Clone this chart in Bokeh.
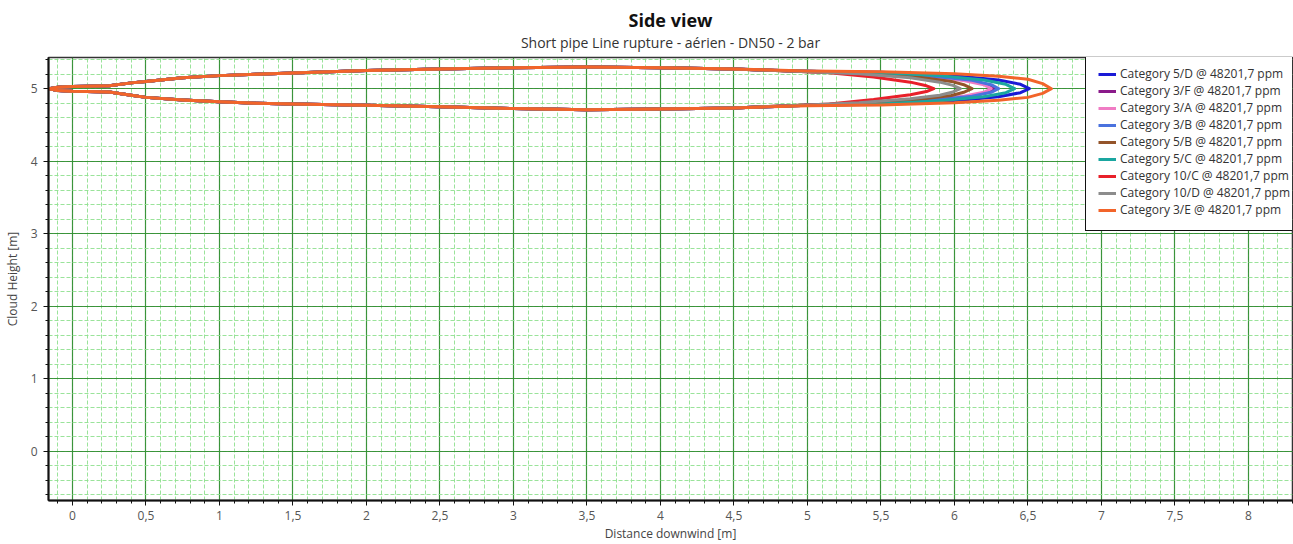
from bokeh.plotting import figure
from bokeh.models import (Title, SingleIntervalTicker, CustomJSTickFormatter, Range1d,
                          Legend, LegendItem)
from bokeh.embed import file_html
from bokeh.resources import INLINE

# ---------------- data ----------------
series_names = ["Category 5/D @ 48201,7 ppm", "Category 3/F @ 48201,7 ppm",
                "Category 3/A @ 48201,7 ppm", "Category 3/B @ 48201,7 ppm",
                "Category 5/B @ 48201,7 ppm", "Category 5/C @ 48201,7 ppm",
                "Category 10/C @ 48201,7 ppm", "Category 10/D @ 48201,7 ppm",
                "Category 3/E @ 48201,7 ppm"]
series_colors = ["#1a1ad6", "#8a1a8a", "#f07cc4", "#4a72de", "#94542a",
                 "#1aa6a0", "#e8202a", "#8c8c8c", "#f2642a"]

# common body of the cloud (distance, upper height, lower height)
body_x = [-0.16, -0.1, 0.0, 0.1, 0.25, 0.4, 0.5, 0.75, 1.0, 1.25, 1.5, 2.0, 2.5, 3.0, 3.5, 4.0, 4.5]
body_up = [5.0, 5.02, 5.03, 5.035, 5.04, 5.08, 5.10, 5.15, 5.18, 5.20, 5.215, 5.25, 5.27, 5.29, 5.30, 5.29, 5.27]
body_lo = [5.0, 4.975, 4.965, 4.96, 4.955, 4.91, 4.88, 4.845, 4.82, 4.80, 4.79, 4.77, 4.75, 4.725, 4.71, 4.72, 4.735]

# tail of each cloud, down to its downwind tip
tail_x = [
    [5.0, 5.5, 6.0, 6.3, 6.45, 6.51],      # 5/D
    [5.0, 5.4, 5.8, 6.1, 6.23, 6.28],      # 3/F
    [5.0, 5.4, 5.8, 6.07, 6.2, 6.25],      # 3/A
    [5.0, 5.4, 5.8, 6.12, 6.25, 6.30],     # 3/B
    [5.0, 5.4, 5.75, 5.98, 6.07, 6.12],    # 5/B
    [5.0, 5.5, 5.9, 6.2, 6.35, 6.41],      # 5/C
    [5.0, 5.15, 5.45, 5.7, 5.81, 5.86],    # 10/C
    [5.0, 5.35, 5.7, 5.9, 5.99, 6.04],     # 10/D
    [5.0, 5.5, 6.0, 6.3, 6.5, 6.6, 6.66],  # 3/E
]
tail_up = [
    [5.24, 5.225, 5.18, 5.12, 5.06, 5.0],
    [5.24, 5.22, 5.18, 5.115, 5.055, 5.0],
    [5.24, 5.22, 5.175, 5.11, 5.055, 5.0],
    [5.24, 5.22, 5.18, 5.115, 5.055, 5.0],
    [5.235, 5.21, 5.16, 5.10, 5.05, 5.0],
    [5.24, 5.22, 5.18, 5.12, 5.06, 5.0],
    [5.235, 5.22, 5.16, 5.09, 5.04, 5.0],
    [5.235, 5.205, 5.15, 5.09, 5.045, 5.0],
    [5.245, 5.235, 5.205, 5.17, 5.13, 5.07, 5.0],
]
tail_lo = [
    [4.77, 4.785, 4.835, 4.89, 4.945, 5.0],
    [4.77, 4.79, 4.835, 4.895, 4.95, 5.0],
    [4.77, 4.79, 4.84, 4.90, 4.95, 5.0],
    [4.77, 4.79, 4.835, 4.895, 4.95, 5.0],
    [4.775, 4.80, 4.85, 4.905, 4.955, 5.0],
    [4.77, 4.79, 4.835, 4.89, 4.945, 5.0],
    [4.775, 4.79, 4.85, 4.915, 4.96, 5.0],
    [4.775, 4.805, 4.86, 4.91, 4.955, 5.0],
    [4.765, 4.775, 4.805, 4.84, 4.88, 4.935, 5.0],
]

title_text = "Side view"
subtitle_text = "Short pipe Line rupture - aérien - DN50 - 2 bar"
x_label = "Distance downwind [m]"
y_label = "Cloud Height [m]"

FONT = "Open Sans"

p = figure(width=1293, height=544, output_backend="svg", toolbar_location=None,
           x_range=Range1d(-0.163, 8.30), y_range=Range1d(-0.68, 5.43),
           min_border_left=46, min_border_right=1, min_border_bottom=44, min_border_top=57,
           background_fill_color="white", border_fill_color="white")

sub = Title(text=subtitle_text, align="center", text_font=FONT, text_font_size="14px",
            text_font_style="normal", text_color="#333333", standoff=11,
            text_line_height=1.0)
main = Title(text=title_text, align="center", text_font=FONT, text_font_size="18px",
             text_font_style="bold", text_color="#111111", standoff=0,
             text_line_height=1.0)
try:
    main.standoff = -12
except Exception:
    pass
p.add_layout(sub, "above")
p.add_layout(main, "above")

p.outline_line_color = "#333333"
p.outline_line_width = 1.5

fmt = CustomJSTickFormatter(code="return (Math.round(tick*10)/10).toString().replace('.', ',');")
p.xaxis.ticker = SingleIntervalTicker(interval=0.5, num_minor_ticks=5)
p.yaxis.ticker = SingleIntervalTicker(interval=1, num_minor_ticks=5)
p.xaxis.formatter = fmt
p.yaxis.formatter = fmt
for ax in (p.xaxis[0], p.yaxis[0]):
    ax.axis_line_color = "#111111"
    ax.axis_line_width = 2
    ax.major_tick_line_color = "#111111"
    ax.minor_tick_line_color = "#111111"
    ax.major_tick_out = 5
    ax.major_tick_in = 0
    ax.minor_tick_out = 3
    ax.minor_tick_in = 0
    ax.major_label_text_font = FONT
    ax.major_label_text_font_size = "12px"
    ax.major_label_text_color = "#555555"
    ax.axis_label_text_font = FONT
    ax.axis_label_text_font_size = "12px"
    ax.axis_label_text_font_style = "normal"
    ax.axis_label_text_color = "#444444"
p.xaxis.axis_label = x_label
p.yaxis.axis_label = y_label
p.xaxis.major_label_standoff = 5
p.xaxis.axis_label_standoff = 2
p.yaxis.major_label_standoff = 6
p.yaxis.axis_label_standoff = 7

for g in (p.xgrid[0], p.ygrid[0]):
    g.grid_line_color = "#2e8b2e"
    g.grid_line_width = 1.2
    g.grid_line_alpha = 0.9
    g.minor_grid_line_color = "#8fe08f"
    g.minor_grid_line_dash = "4 2"
    g.minor_grid_line_width = 1
    g.minor_grid_line_alpha = 0.9

items = []
for i, name in enumerate(series_names):
    xs = body_x + tail_x[i]
    ups = body_up + tail_up[i]
    los = body_lo + tail_lo[i]
    cx = xs + xs[::-1]
    cy = ups + los[::-1]
    r = p.line(cx, cy, line_color=series_colors[i], line_width=3, line_join="round")
    items.append(LegendItem(label=name, renderers=[r]))

legend = Legend(items=items, location=(1037, 269),
                label_text_font=FONT, label_text_font_size="12px", label_text_color="#333333",
                label_height=14, glyph_height=14, glyph_width=18, spacing=0, padding=12,
                label_standoff=4, border_line_color="#111111", border_line_width=1.5,
                border_line_alpha=1.0,
                background_fill_color="white", background_fill_alpha=1.0)
try:
    legend.spacing = -1
except Exception:
    legend.location = (1037, 261)
p.add_layout(legend, "center")

open("out.html", "w").write(file_html(p, INLINE))
